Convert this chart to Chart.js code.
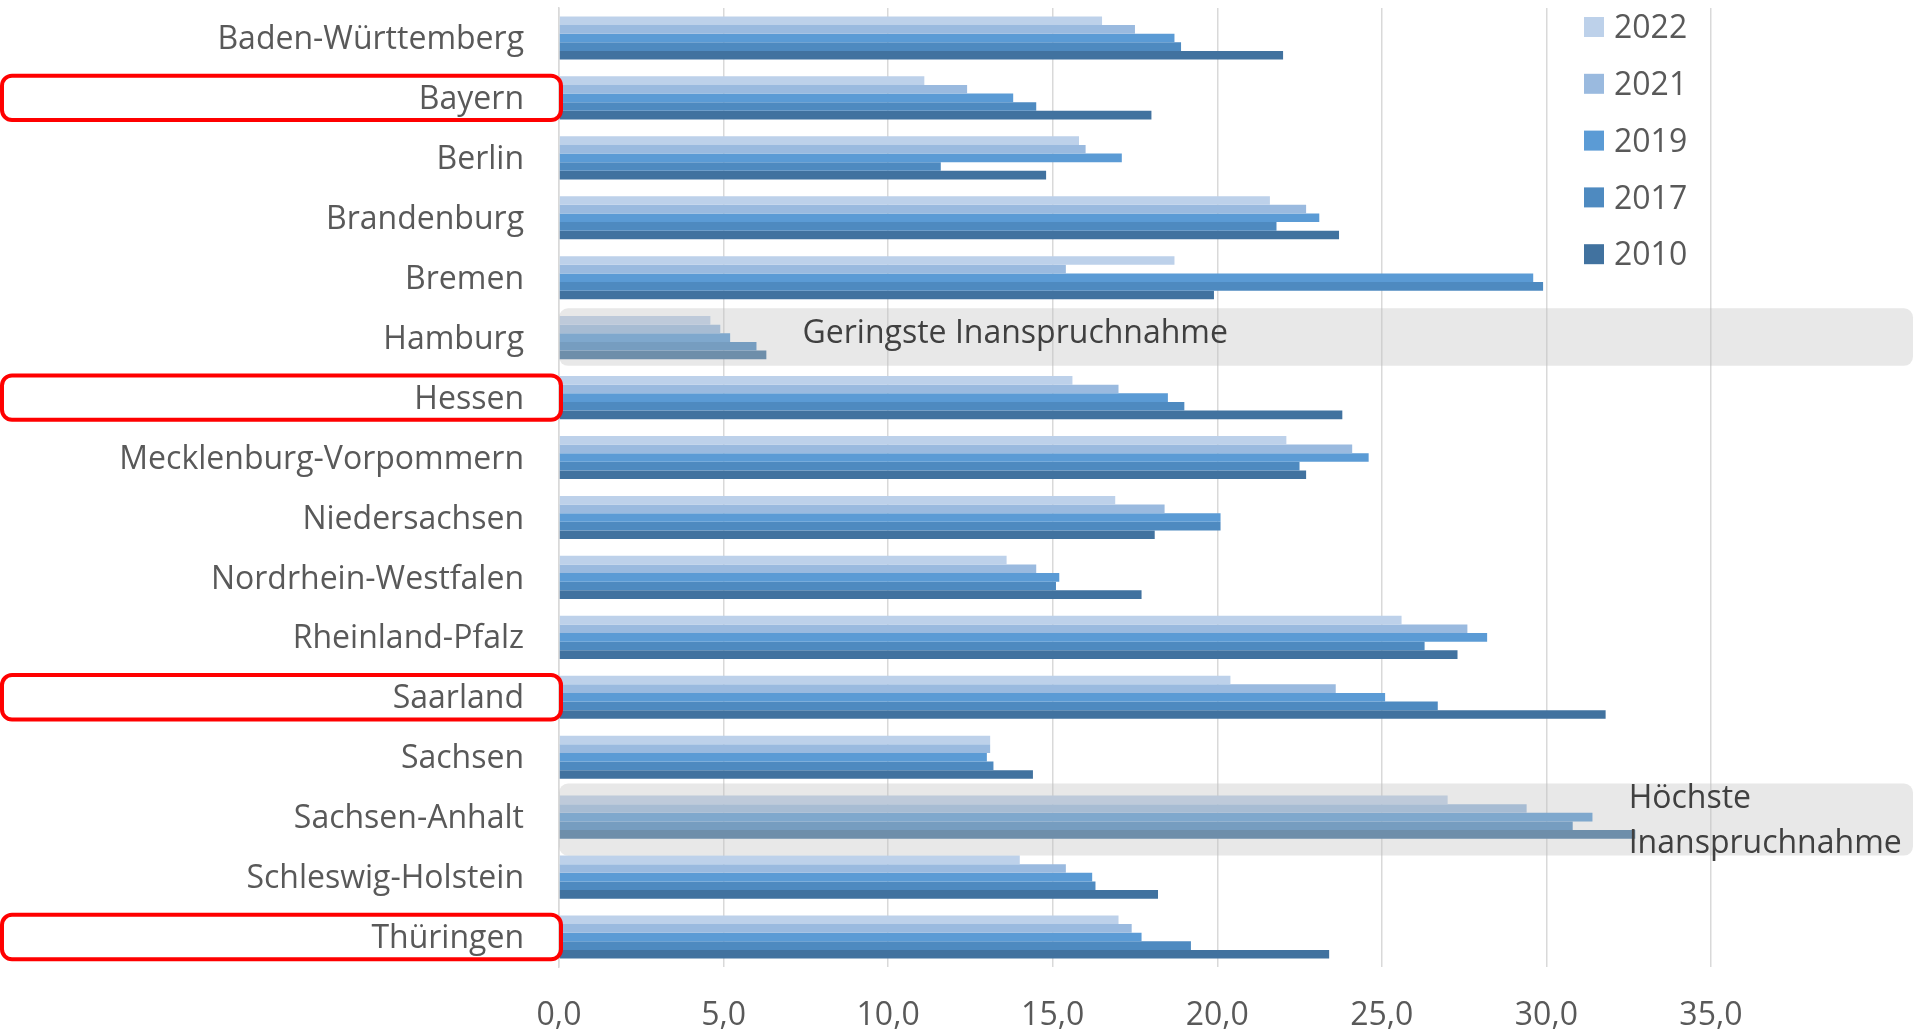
<!DOCTYPE html>
<html lang="de">
<head>
<meta charset="utf-8">
<title>Inanspruchnahme nach Bundesland</title>
<script src="https://cdn.jsdelivr.net/npm/chart.js@4.4.1/dist/chart.umd.min.js"></script>
<style>
    html, body { margin: 0; padding: 0; background: #ffffff; }
    #wrap { width: 1915px; height: 1031px; position: relative; }
</style>
</head>
<body>
<div id="wrap"><canvas id="chart"></canvas></div>
<script>
const states = [
    'Baden-Württemberg', 'Bayern', 'Berlin', 'Brandenburg', 'Bremen', 'Hamburg',
    'Hessen', 'Mecklenburg-Vorpommern', 'Niedersachsen', 'Nordrhein-Westfalen',
    'Rheinland-Pfalz', 'Saarland', 'Sachsen', 'Sachsen-Anhalt', 'Schleswig-Holstein', 'Thüringen'
];
const years = ['2022', '2021', '2019', '2017', '2010'];

const values2022 = [16.5, 11.1, 15.8, 21.6, 18.7, 4.6, 15.6, 22.1, 16.9, 13.6, 25.6, 20.4, 13.1, 27.0, 14.0, 17.0];
const values2021 = [17.5, 12.4, 16.0, 22.7, 15.4, 4.9, 17.0, 24.1, 18.4, 14.5, 27.6, 23.6, 13.1, 29.4, 15.4, 17.4];
const values2019 = [18.7, 13.8, 17.1, 23.1, 29.6, 5.2, 18.5, 24.6, 20.1, 15.2, 28.2, 25.1, 13.0, 31.4, 16.2, 17.7];
const values2017 = [18.9, 14.5, 11.6, 21.8, 29.9, 6.0, 19.0, 22.5, 20.1, 15.1, 26.3, 26.7, 13.2, 30.8, 16.3, 19.2];
const values2010 = [22.0, 18.0, 14.8, 23.7, 19.9, 6.3, 23.8, 22.7, 18.1, 17.7, 27.3, 31.8, 14.4, 32.7, 18.2, 23.4];

const tickValues = [0, 5, 10, 15, 20, 25, 30, 35];

// Länder mit roter Markierung am Label
const markedStates = ['Bayern', 'Hessen', 'Saarland', 'Thüringen'];

const colors = ['#BDD1EA', '#9ABADF', '#5B9BD5', '#4E8AC0', '#41729F'];
const seriesValues = [values2022, values2021, values2019, values2017, values2010];

const textColor = '#595959';
const fontFamily = "'Open Sans', sans-serif";
const fontSize = 32;
const textShift = 2;

// graue Hinweis-Kästen (Offsets in Kategorie-Höhen, Text-Start als x-Wert)
const notes = [
    {state: 'Hamburg', from: -0.49, to: 0.47, textAt: 7.4, lines: ['Geringste Inanspruchnahme'], lineOffsets: [-0.09]},
    {state: 'Sachsen-Anhalt', from: -0.56, to: 0.64, textAt: 32.5, lines: ['Höchste', 'Inanspruchnahme'], lineOffsets: [-0.33, 0.42]}
];

const annotations = {
    id: 'annotations',
    afterDatasetsDraw(chart) {
        const {ctx, chartArea, scales: {x, y}} = chart;
        const band = y.getPixelForValue(1) - y.getPixelForValue(0);

        notes.forEach(note => {
            const cy = y.getPixelForValue(states.indexOf(note.state));
            const top = cy + note.from * band;
            const bottom = cy + note.to * band;
            ctx.save();
            ctx.fillStyle = 'rgba(190, 190, 190, 0.36)';
            ctx.beginPath();
            ctx.roundRect(chartArea.left, top, chartArea.right - chartArea.left - 2, bottom - top, 9);
            ctx.fill();

            ctx.fillStyle = '#404040';
            ctx.font = `${fontSize}px ${fontFamily}`;
            ctx.textAlign = 'left';
            ctx.textBaseline = 'middle';
            note.lines.forEach((line, i) => {
                ctx.fillText(line, x.getPixelForValue(note.textAt), cy + note.lineOffsets[i] * band + textShift);
            });
            ctx.restore();
        });
    },
    afterDraw(chart) {
        const {ctx, chartArea, scales: {y}} = chart;
        ctx.save();

        // rote Rahmen um die Labels
        ctx.strokeStyle = '#FF0000';
        ctx.lineWidth = 4;
        markedStates.forEach(state => {
            const cy = y.getPixelForValue(states.indexOf(state));
            ctx.beginPath();
            ctx.roundRect(2, cy - 22.2, chartArea.left, 44.4, 10);
            ctx.stroke();
        });

        // Legende rechts oben
        ctx.font = `${fontSize}px ${fontFamily}`;
        ctx.textAlign = 'left';
        ctx.textBaseline = 'middle';
        chart.data.datasets.forEach((ds, i) => {
            const cy = 27 + i * 56.8;
            ctx.fillStyle = ds.backgroundColor;
            ctx.fillRect(1584, cy - 10, 20, 20);
            ctx.fillStyle = textColor;
            ctx.fillText(ds.label, 1614, cy + textShift);
        });
        ctx.restore();
    }
};

new Chart(document.getElementById('chart'), {
    type: 'bar',
    data: {
        labels: states,
        datasets: years.map((year, i) => ({
            label: year,
            data: seriesValues[i],
            backgroundColor: colors[i],
            borderWidth: 0,
            barPercentage: 1,
            categoryPercentage: 0.72
        }))
    },
    options: {
        indexAxis: 'y',
        responsive: true,
        maintainAspectRatio: false,
        animation: false,
        layout: {padding: {top: 8, right: 0, left: 0, bottom: 0}},
        plugins: {
            legend: {display: false},
            tooltip: {enabled: false}
        },
        scales: {
            x: {
                min: 0,
                max: 41.2,
                afterBuildTicks(scale) {
                    scale.ticks = tickValues.map(v => ({value: v}));
                },
                afterFit(scale) {
                    scale.height = 64;
                },
                grid: {color: '#D9D9D9', lineWidth: 1.5, drawTicks: false},
                border: {display: false},
                ticks: {
                    padding: 30,
                    color: textColor,
                    font: {family: fontFamily, size: fontSize},
                    callback: value => value.toFixed(1).replace('.', ',')
                }
            },
            y: {
                afterFit(scale) {
                    scale.width = 559;
                    scale.paddingTop = 0;
                    scale.paddingBottom = 0;
                },
                grid: {display: false, drawTicks: false},
                border: {display: true, color: '#D9D9D9', width: 1.5},
                ticks: {
                    padding: 35,
                    labelOffset: textShift,
                    color: textColor,
                    font: {family: fontFamily, size: fontSize}
                }
            }
        }
    },
    plugins: [annotations]
});
</script>
</body>
</html>
